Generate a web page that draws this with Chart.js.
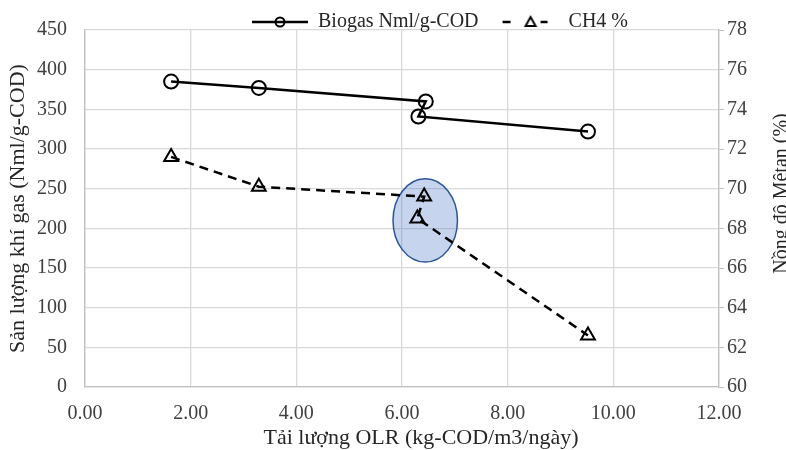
<!DOCTYPE html>
<html lang="vi">
<head>
<meta charset="UTF-8">
<title>Sản lượng khí gas và nồng độ Mêtan theo tải lượng OLR</title>
<script src="https://cdn.jsdelivr.net/npm/chart.js"></script>
<style>
  body { margin: 0; background: #fff; }
</style>
</head>
<body>
<canvas id="myChart" width="786" height="450"></canvas>
<script>
// so lieu doc tu hinh
const olrBiogas = [1.63, 3.29, 6.45, 6.31, 9.52];
const biogas = [385, 377, 360, 341, 322];
const olrCh4 = [1.63, 3.29, 6.42, 6.29, 9.52];
const ch4 = [71.6, 70.1, 69.6, 68.5, 62.6];

const xTicks = [0, 2, 4, 6, 8, 10, 12];
const gasTicks = [0, 50, 100, 150, 200, 250, 300, 350, 400, 450];
const ch4Ticks = [60, 62, 64, 66, 68, 70, 72, 74, 76, 78];

// vung khoanh quanh 2 diem o OLR ~ 6.4 (don vi cua truc x va truc phai)
const highlight = { x: 6.44, y: 68.4, rx: 0.61, ry: 2.1 };

const FONT = 'Liberation Serif';

// icon chu giai: duong + ky hieu
function legendIcon(dashed) {
  const c = document.createElement('canvas');
  c.width = 80; c.height = 16;
  const g = c.getContext('2d');
  g.strokeStyle = '#000';
  g.lineWidth = 2.5;
  g.beginPath();
  if (dashed) {
    g.moveTo(24, 8); g.lineTo(32, 8);
    g.moveTo(62, 8); g.lineTo(69, 8);
  } else {
    g.moveTo(24, 8); g.lineTo(80, 8);
  }
  g.stroke();
  g.lineWidth = 2;
  g.beginPath();
  if (dashed) {
    g.moveTo(52, 3); g.lineTo(57, 12); g.lineTo(47, 12); g.closePath();
  } else {
    g.arc(52, 8, 4.5, 0, Math.PI * 2);
  }
  g.stroke();
  return c;
}
const icons = [legendIcon(false), legendIcon(true)];

const ellipsePlugin = {
  id: 'vungKhoanh',
  beforeDatasetsDraw(chart) {
    const { ctx, scales: { x, y1 } } = chart;
    const cx = x.getPixelForValue(highlight.x);
    const cy = y1.getPixelForValue(highlight.y);
    const rx = x.getPixelForValue(highlight.x + highlight.rx) - cx;
    const ry = cy - y1.getPixelForValue(highlight.y + highlight.ry);
    ctx.save();
    ctx.beginPath();
    ctx.ellipse(cx, cy, rx, ry, 0, 0, Math.PI * 2);
    ctx.fillStyle = 'rgba(68, 114, 196, 0.3)';
    ctx.fill();
    ctx.lineWidth = 1.5;
    ctx.strokeStyle = '#2f5597';
    ctx.stroke();
    ctx.restore();
  }
};

// tieu de truc phai (doc tu duoi len) va truc x (lech sang phai nhu ban goc)
const axisTitles = {
  id: 'tieuDeTruc',
  afterDraw(chart) {
    const { ctx, chartArea } = chart;
    ctx.save();
    ctx.fillStyle = '#262626';
    ctx.textAlign = 'center';
    ctx.font = '22px "' + FONT + '"';
    ctx.textBaseline = 'middle';
    ctx.fillText('Tải lượng OLR (kg-COD/m3/ngày)', (chartArea.left + chartArea.right) / 2 + 19, 438);
    ctx.translate(chart.width + 1, (chartArea.top + chartArea.bottom) / 2 - 15);
    ctx.rotate(-Math.PI / 2);
    ctx.font = '20px "' + FONT + '"';
    ctx.textBaseline = 'alphabetic';
    ctx.fillText('Nồng độ Mêtan (%)', 0, 0);
    ctx.restore();
  }
};

const legendShift = {
  id: 'dichChuGiai',
  afterLayout(chart) {
    const lg = chart.legend;
    lg.left += 35; lg.right += 35;
    lg.top += 12; lg.bottom += 12;
  }
};

const ctx = document.getElementById('myChart').getContext('2d');
const myChart = new Chart(ctx, {
  type: 'scatter',
  data: {
    datasets: [{
      label: 'Biogas Nml/g-COD',
      data: olrBiogas.map((v, i) => ({ x: v, y: biogas[i] })),
      yAxisID: 'y',
      showLine: true,
      borderColor: '#000',
      borderWidth: 2.5,
      pointStyle: 'circle',
      pointRadius: 7,
      pointBorderWidth: 2,
      pointBorderColor: '#000',
      pointBackgroundColor: 'transparent'
    }, {
      label: 'CH4 %',
      data: olrCh4.map((v, i) => ({ x: v, y: ch4[i] })),
      yAxisID: 'y1',
      showLine: true,
      borderColor: '#000',
      borderWidth: 2.5,
      borderDash: [9, 6],
      pointStyle: 'triangle',
      pointRadius: 8,
      pointBorderWidth: 2,
      pointBorderColor: '#000',
      pointBackgroundColor: 'transparent'
    }]
  },
  options: {
    responsive: false,
    animation: false,
    devicePixelRatio: 1,
    layout: { padding: { top: 0 } },
    plugins: {
      tooltip: { enabled: false },
      legend: {
        position: 'top',
        labels: {
          usePointStyle: true,
          pointStyleWidth: 80,
          padding: 0,
          color: '#262626',
          font: { family: FONT, size: 20 },
          generateLabels: chart => chart.data.datasets.map((ds, i) => ({
            text: ds.label,
            pointStyle: icons[i],
            datasetIndex: i,
            hidden: false,
            lineWidth: 0,
            fontColor: '#262626'
          }))
        }
      }
    },
    scales: {
      x: {
        type: 'linear',
        min: 0,
        max: 12,
        afterBuildTicks: s => { s.ticks = xTicks.map(v => ({ value: v })); },
        afterFit: s => { s.height = 63; },
        grid: { color: '#d9d9d9', lineWidth: 1.3, drawTicks: false },
        border: { color: '#bfbfbf', width: 1.3 },
        ticks: {
          padding: 15,
          color: '#404040',
          font: { family: FONT, size: 20 },
          callback: v => v.toFixed(2)
        }
      },
      y: {
        position: 'left',
        min: 0,
        max: 450,
        afterBuildTicks: s => { s.ticks = gasTicks.map(v => ({ value: v })); },
        afterFit: s => { s.width = 85; },
        grid: { color: '#d9d9d9', lineWidth: 1.3, drawTicks: false },
        border: { color: '#bfbfbf', width: 1.3 },
        ticks: {
          padding: 18,
          color: '#404040',
          font: { family: FONT, size: 20 }
        },
        title: {
          display: true,
          text: 'Sản lượng khí gas (Nml/g-COD)',
          color: '#262626',
          font: { family: FONT, size: 22 },
          padding: { top: 5, bottom: 0 }
        }
      },
      y1: {
        position: 'right',
        min: 60,
        max: 78,
        afterBuildTicks: s => { s.ticks = ch4Ticks.map(v => ({ value: v })); },
        afterFit: s => { s.width = 67; },
        grid: { drawOnChartArea: false, color: '#bfbfbf', tickLength: 5 },
        border: { color: '#bfbfbf', width: 1.3 },
        ticks: {
          padding: 3,
          color: '#404040',
          font: { family: FONT, size: 20 }
        }
      }
    }
  },
  plugins: [ellipsePlugin, axisTitles, legendShift]
});
</script>
</body>
</html>
